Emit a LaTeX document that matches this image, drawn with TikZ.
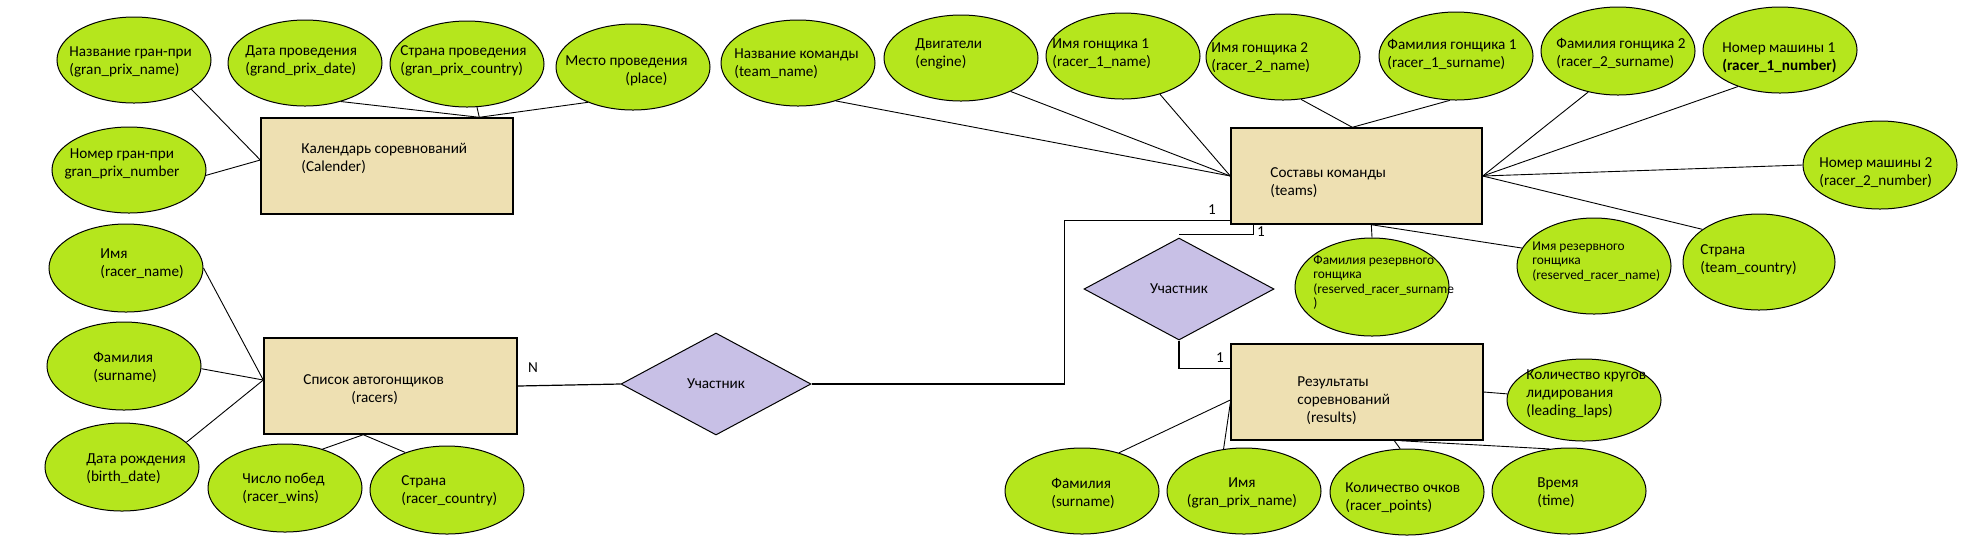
\documentclass[tikz,border=0pt]{standalone}
\usepackage{fontspec}
\setmainfont{Carlito}
\usetikzlibrary{shapes.geometric,calc}
\definecolor{attrgreen}{RGB}{181,230,29}
\definecolor{entbeige}{RGB}{238,224,178}
\definecolor{rellav}{RGB}{200,192,230}
\begin{document}
\begin{tikzpicture}[x=0.5pt,y=-0.5pt,
  attr/.style={ellipse, draw=black, line width=0.5pt, fill=attrgreen, minimum width=77pt, minimum height=43pt, inner sep=0pt},
  ent/.style={rectangle, draw=black, line width=0.7pt, fill=entbeige, inner sep=0pt, minimum width=126pt, minimum height=48pt},
  rel/.style={diamond, draw=black, line width=0.5pt, fill=rellav, minimum width=95pt, minimum height=51pt, inner sep=0pt, font=\fontsize{7.6}{9}\selectfont},
  txt/.style={anchor=west, align=left, inner sep=0pt, font=\fontsize{7.6}{9}\selectfont},
  ctxt/.style={anchor=center, align=center, inner sep=0pt, font=\fontsize{7.6}{9}\selectfont},
  smalltxt/.style={anchor=west, align=left, inner sep=0pt, font=\fontsize{6.7}{7.15}\selectfont},
  conn/.style={draw=black, line width=0.45pt},
  relline/.style={draw=black, line width=0.6pt},
  card/.style={inner sep=0pt, font=\fontsize{7.6}{9}\selectfont}
]
\useasboundingbox (0,0) rectangle (1968,554);

% ---------- Calendar ----------
\node[ent] (cal) at (387,166) {};
\node[txt] (calt) at (301,158) {Календарь соревнований\\(Calender)};
\node[attr] (a1) at (134,60) {};
\node[txt] (a1t) at (69,61.5) {Название гран-при\\(gran\_prix\_name)};
\node[attr] (a2) at (305,63) {};
\node[txt] (a2t) at (245,61) {Дата проведения\\(grand\_prix\_date)};
\node[attr] (a3) at (467,64) {};
\node[txt] (a3t) at (400,61) {Страна проведения\\(gran\_prix\_country)};
\node[attr] (a4) at (633,67) {};
\node[txt] (a4t) at (565,71) {Место проведения\\\hspace*{30pt}(place)};
\node[attr] (a5) at (129,170) {};
\node[ctxt] (a5t) at (122,164) {Номер гран-при\\gran\_prix\_number};

\coordinate (calw) at ($(cal.west)+(0,-6)$);
\coordinate (caln) at ($(cal.north west)+(219,0)$);
\draw[conn] (a1.-27) -- (calw);
\draw[conn] (a5.-4) -- (calw);
\draw[conn] (a2.-47) -- (caln);
\draw[conn] (a3.-77) -- (caln);
\draw[conn] (a4.-142) -- (caln);

% ---------- Teams ----------
\node[ent, minimum width=125.5pt] (teams) at (1356.5,176) {};
\node[txt] (teamst) at (1270,182.5) {Составы команды\\(teams)};
\node[attr] (t1) at (798,63) {};
\node[txt] (t1t) at (734,63.5) {Название команды\\(team\_name)};
\node[attr] (t2) at (961,58) {};
\node[txt] (t2t) at (915,53.5) {Двигатели\\(engine)};
\node[attr] (t3) at (1123,56) {};
\node[txt] (t3t) at (1052,54) {Имя гонщика 1\\(racer\_1\_name)};
\node[attr] (t4) at (1283,57) {};
\node[txt] (t4t) at (1211,58) {Имя гонщика 2\\(racer\_2\_name)};
\node[attr, minimum height=44pt] (t5) at (1456,56) {};
\node[txt] (t5t) at (1387,54.5) {Фамилия гонщика 1\\(racer\_1\_surname)};
\node[attr, minimum height=44pt] (t6) at (1618,51) {};
\node[txt] (t6t) at (1556,53) {Фамилия гонщика 2\\(racer\_2\_surname)};
\node[attr] (t7) at (1780,50) {};
\node[txt] (t7t) at (1722,58) {Номер машины 1\\\textbf{(racer\_1\_number)}};
\node[attr, minimum height=44pt] (t8) at (1880,165) {};
\node[txt] (t8t) at (1819,172.5) {Номер машины 2\\(racer\_2\_number)};
\node[attr, minimum width=76pt, minimum height=48pt] (t9) at (1759,262) {};
\node[txt] (t9t) at (1700,259.5) {Страна\\(team\_country)};
\node[attr, minimum height=48pt] (t10) at (1594,266) {};
\node[smalltxt] (t10t) at (1532,261.5) {Имя резервного\\гонщика\\(reserved\_racer\_name)};
\node[attr, minimum height=49pt] (t11) at (1372,287) {};
\node[smalltxt] (t11t) at (1313,282.5) {Фамилия резервного\\гонщика\\(reserved\_racer\_surname\\)};

\coordinate (teamsn) at ($(teams.north west)+(122,0)$);
\coordinate (teamss) at ($(teams.south west)+(141,0)$);
\draw[conn] (t1.-45) -- (teams.west);
\draw[conn] (t2.-34) -- (teams.west);
\draw[conn] (t3.-46) -- (teams.west);
\draw[conn] (t4.-67) -- (teamsn);
\draw[conn] (t5.-98) -- (teamsn);
\draw[conn] (t6.-126) -- (teams.east);
\draw[conn] (t7.-139) -- (teams.east);
\draw[conn] (t8.west) -- (teams.east);
\draw[conn] (t9.150) -- (teams.east);
\draw[conn] (t10.166) -- (teamss);
\draw[conn] (t11.north) -- (teamss);

% ---------- Racers ----------
\node[ent, minimum width=126.5pt] (rac) at (390.5,386) {};
\node[txt] (ract) at (303,389.5) {Список автогонщиков\\\hspace*{24pt}(racers)};
\node[attr, minimum height=44pt] (r1) at (126,268) {};
\node[txt] (r1t) at (100,264) {Имя\\(racer\_name)};
\node[attr, minimum height=44pt] (r2) at (124,366) {};
\node[txt] (r2t) at (93,367) {Фамилия\\(surname)};
\node[attr, minimum height=44pt] (r3) at (122,467) {};
\node[txt] (r3t) at (86,469) {Дата рождения\\(birth\_date)};
\node[attr, minimum height=44pt] (r4) at (285,488) {};
\node[txt] (r4t) at (242,488.5) {Число побед\\(racer\_wins)};
\node[attr, minimum height=44pt] (r5) at (447,490) {};
\node[txt] (r5t) at (401,490.5) {Страна\\(racer\_country)};

\coordinate (racw) at ($(rac.west)+(0,-6)$);
\coordinate (racs) at ($(rac.south west)+(100,0)$);
\draw[conn] (r1.0) -- (racw);
\draw[conn] (r2.-2) -- (racw);
\draw[conn] (r3.21) -- (racw);
\draw[conn] (r4.46) -- (racs);
\draw[conn] (r5.138) -- (racs);

% ---------- Results ----------
\node[ent] (res) at (1357,392) {};
\node[txt] (rest) at (1297,401) {Результаты\\соревнований\\\hspace*{4.5pt}(results)};
\node[attr, minimum height=41pt] (s1) at (1584,400) {};
\node[txt] (s1t) at (1526,393.5) {Количество кругов\\лидирования\\(leading\_laps)};
\node[attr] (s2) at (1082,491) {};
\node[txt] (s2t) at (1051,493) {Фамилия\\(surname)};
\node[attr] (s3) at (1244,491) {};
\node[ctxt] (s3t) at (1242,493) {Имя\\(gran\_prix\_name)};
\node[attr] (s4) at (1407,492) {};
\node[txt] (s4t) at (1345,497.5) {Количество очков\\(racer\_points)};
\node[attr] (s5) at (1569,491) {};
\node[txt] (s5t) at (1537,493) {Время\\(time)};

\coordinate (resw1) at ($(res.west)+(0,8)$);
\coordinate (resw2) at ($(res.west)+(0,11)$);
\coordinate (ress1) at ($(res.south west)+(164,0)$);
\coordinate (ress2) at ($(res.south west)+(170,0)$);
\draw[conn] (res.east) -- (s1);
\draw[conn] (s2.46) -- (resw1);
\draw[conn] (s3.116) -- (resw2);
\draw[conn] (s4.99) -- (ress1);
\draw[conn] (s5.115) -- (ress2);

% ---------- Relationships ----------
\node[rel] (d1) at (716,384) {Участник};
\node[rel] (d2) at (1179,289) {Участник};

\draw[relline] (rac.east) -- (d1.west);
\draw[relline] (d1.east) -- ++(253,0) |- ($(teams.south west)+(0,-4)$);
\draw[relline] ($(teams.south west)+(23,0)$) |- ($(d2.north)+(0,-3)$);
\draw[relline] (d2.south) |- ($(res.north west)+(0,25)$);

\node[card] (cardn) at (533,368) {N};
\node[card] (card1) at (1212,210) {1};
\node[card] (card2) at (1261,232) {1};
\node[card] (card3) at (1220,358) {1};
\end{tikzpicture}
\end{document}
